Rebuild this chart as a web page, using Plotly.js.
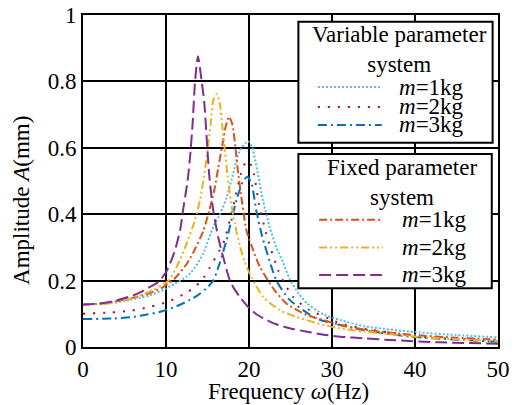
<!DOCTYPE html>
<html>
<head>
<meta charset="utf-8">
<script src="https://cdn.plot.ly/plotly-3.0.1.min.js"></script>
<style>html,body{margin:0;padding:0;background:#fff;}#chart{width:522px;height:405px;}</style>
</head>
<body>
<div id="chart"></div>
<script>
// Variable parameter system
var varM1X = [0,3,5.7,8,9.7,11,12.5,13.5,14.5,15.7,16.5,17.3,18.1,18.9,19.9,20.4,21.0,21.7,22.5,23.3,24.1,24.9,26,27,29,31,34,40,45,50];
var varM1Y = [0.127,0.132,0.142,0.155,0.172,0.19,0.212,0.24,0.282,0.362,0.40,0.45,0.523,0.593,0.62,0.60,0.53,0.44,0.36,0.30,0.255,0.205,0.16,0.131,0.098,0.081,0.062,0.045,0.036,0.029];

var varM2X = [0,3.3,5.7,8.1,10.3,12.5,13.5,14.3,15.3,16.2,16.9,18.1,19.0,19.7,20.2,20.6,21.2,22.2,23.5,24.1,25.3,27.3,29.6,31,34.2,41.4,50];
var varM2Y = [0.100,0.104,0.109,0.121,0.137,0.164,0.182,0.2,0.24,0.28,0.312,0.423,0.52,0.56,0.55,0.52,0.43,0.33,0.232,0.2,0.151,0.111,0.086,0.071,0.054,0.03,0.021];

var varM3X = [0,3.7,6.1,7.7,9.3,11.3,12.9,13.9,14.8,15.7,16.5,17.3,18.5,19.3,19.8,20.3,20.9,21.6,22.7,23.3,24.9,28.1,31,33.8,39.4,45,50];
var varM3Y = [0.084,0.086,0.091,0.098,0.106,0.123,0.142,0.157,0.175,0.2,0.255,0.322,0.443,0.50,0.513,0.493,0.408,0.332,0.242,0.2,0.142,0.086,0.066,0.051,0.031,0.022,0.016];

// Fixed parameter system
var fixM1X = [0,3,6,8,9.5,11,12.5,13.5,14.5,15.2,15.8,16.3,16.8,17.2,17.6,18.0,18.4,18.7,19.2,19.7,20.5,21.3,22.9,24.5,27,29,31,34,40,45,50];
var fixM1Y = [0.127,0.133,0.148,0.162,0.178,0.205,0.25,0.295,0.35,0.41,0.47,0.54,0.61,0.665,0.694,0.67,0.593,0.523,0.43,0.35,0.292,0.242,0.177,0.131,0.096,0.081,0.066,0.052,0.036,0.028,0.022];

var fixM2X = [0,2,4,6,8.5,10.3,11.3,12.5,13.5,14.1,14.7,15.1,15.4,15.7,16.15,16.5,16.8,17.1,17.4,17.8,18.3,18.9,19.5,20.3,21.7,23.7,25.7,29,31,34,40,45,50];
var fixM2Y = [0.127,0.129,0.134,0.147,0.172,0.200,0.242,0.312,0.383,0.443,0.533,0.613,0.674,0.744,0.762,0.73,0.66,0.59,0.52,0.44,0.37,0.305,0.255,0.21,0.151,0.111,0.091,0.066,0.056,0.046,0.031,0.023,0.018];

var fixM3X = [0,2,4,6,7,8,9,10,11,11.7,12.1,12.6,12.9,13.2,13.5,13.85,14.3,14.6,14.9,15.2,15.7,16.3,16.9,17.7,18.3,18.9,20,21,22,23,25,27,29,31,34,37,43,50];
var fixM3Y = [0.128,0.131,0.140,0.155,0.166,0.180,0.194,0.225,0.285,0.352,0.42,0.50,0.573,0.67,0.80,0.876,0.80,0.74,0.63,0.52,0.41,0.33,0.27,0.20,0.172,0.151,0.118,0.097,0.083,0.071,0.056,0.046,0.037,0.031,0.026,0.021,0.014,0.010];

var xTicks = [0,10,20,30,40,50];
var yTicks = [0,0.2,0.4,0.6,0.8,1];
var massLabels = ['<i>m</i>=1kg','<i>m</i>=2kg','<i>m</i>=3kg'];
var groupTitles = ['Variable parameter<br>system','Fixed parameter<br>system'];
var xTitle = 'Frequency <i>ω</i>(Hz)';
var yTitle = 'Amplitude <i>A</i>(mm)';

var styles = [
  {color:'#4DBEEE', dash:'2px,2px', width:2},
  {color:'#A2142F', dash:'2px,8px', width:2},
  {color:'#0072BD', dash:'9px,4px,2px,4px', width:2},
  {color:'#D95319', dash:'8px,3px,2px,3px', width:2},
  {color:'#EDB120', dash:'8px,3px,2px,3px,2px,3px', width:2},
  {color:'#7E2F8E', dash:'12px,5px', width:2}
];
var xs = [varM1X,varM2X,varM3X,fixM1X,fixM2X,fixM3X];
var ys = [varM1Y,varM2Y,varM3Y,fixM1Y,fixM2Y,fixM3Y];

var traces = xs.map(function(x,i){
  return {x:x, y:ys[i], type:'scatter', mode:'lines',
    line:{color:styles[i].color, dash:styles[i].dash, width:styles[i].width, shape:'spline', smoothing:0.6},
    showlegend:false, hoverinfo:'skip'};
});

var FONT = '"Liberation Serif", "Times New Roman", Times, serif';
var FS = 23;
var shapes = [];
var annotations = [];
var boxes = [
  {x0:0.519, x1:0.987, y0:0.615, y1:0.980, titleY:0.895, rows:[0.783,0.723,0.669], sx0:0.566, sx1:0.720, tx:0.757, cx:0.762},
  {x0:0.519, x1:0.985, y0:0.177, y1:0.581, titleY:0.496, rows:[0.383,0.300,0.217], sx0:0.569, sx1:0.723, tx:0.764, cx:0.768}
];
boxes.forEach(function(b,g){
  shapes.push({type:'rect', xref:'paper', yref:'paper', x0:b.x0, x1:b.x1, y0:b.y0, y1:b.y1,
    fillcolor:'white', line:{color:'black', width:2}, layer:'above'});
  annotations.push({xref:'paper', yref:'paper', x:b.cx, y:b.titleY, text:groupTitles[g], showarrow:false,
    xanchor:'center', yanchor:'middle', font:{family:FONT, size:FS, color:'black'}});
  for (var k=0;k<3;k++){
    var st = styles[g*3+k];
    shapes.push({type:'line', xref:'paper', yref:'paper', x0:b.sx0, x1:b.sx1, y0:b.rows[k], y1:b.rows[k],
      line:{color:st.color, dash:st.dash, width:st.width}, layer:'above'});
    annotations.push({xref:'paper', yref:'paper', x:b.tx, y:b.rows[k], text:massLabels[k], showarrow:false,
      xanchor:'left', yanchor:'middle', font:{family:FONT, size:FS, color:'black'}});
  }
});
// axis titles placed as in the reference
annotations.push({xref:'paper', yref:'paper', x:-0.147, y:0.443, text:yTitle, textangle:-90, showarrow:false,
  xanchor:'center', yanchor:'middle', font:{family:FONT, size:FS, color:'black'}});
annotations.push({xref:'paper', yref:'paper', x:0.494, y:-0.1355, text:xTitle, showarrow:false,
  xanchor:'center', yanchor:'middle', font:{family:FONT, size:FS, color:'black'}});

var layout = {
  width:522, height:405,
  margin:{l:83, r:24, t:15, b:58},
  paper_bgcolor:'white', plot_bgcolor:'white',
  font:{family:FONT, size:FS, color:'black'},
  xaxis:{range:[0,50], tickvals:xTicks, ticktext:xTicks.map(String), showgrid:true, gridcolor:'black', gridwidth:2,
    showline:true, linecolor:'black', linewidth:2, mirror:true, zeroline:false, ticks:'',
    tickfont:{family:FONT, size:FS, color:'black'}},
  yaxis:{range:[0,1], tickvals:yTicks, ticktext:yTicks.map(String), showgrid:true, gridcolor:'black', gridwidth:2,
    showline:true, linecolor:'black', linewidth:2, mirror:true, zeroline:false, ticks:'',
    tickfont:{family:FONT, size:FS, color:'black'}},
  shapes:shapes,
  annotations:annotations,
  showlegend:false
};

Plotly.newPlot('chart', traces, layout, {staticPlot:true, displayModeBar:false});
</script>
</body>
</html>
